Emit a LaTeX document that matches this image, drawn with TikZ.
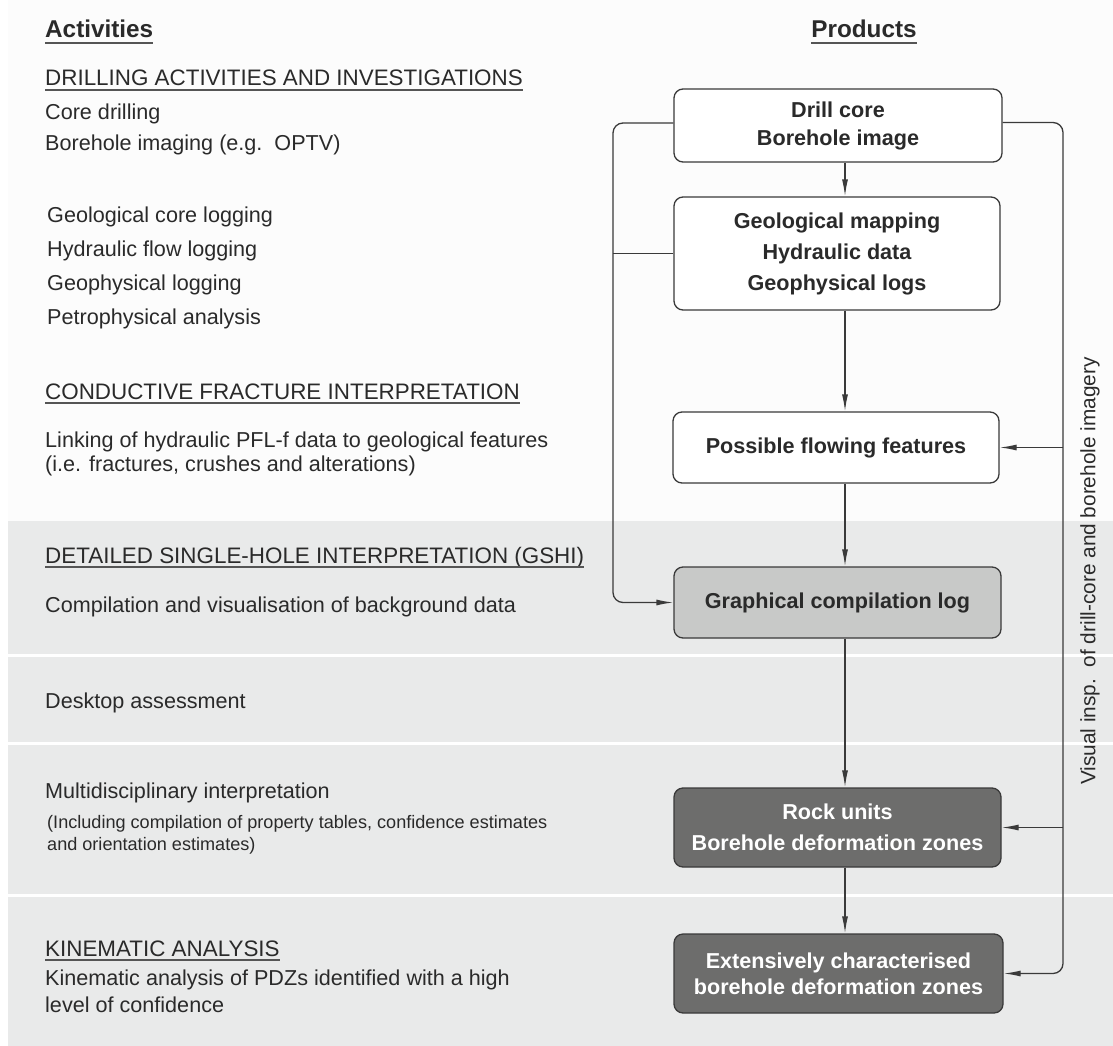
\documentclass[tikz,border=0pt]{standalone}
\usepackage{fontspec}
\setmainfont{Liberation Sans}
\usetikzlibrary{arrows.meta}

\definecolor{band}{HTML}{E9EAEA}
\definecolor{topbg}{HTML}{FCFCFC}
\definecolor{ink}{HTML}{2A2A2A}
\definecolor{edge}{HTML}{3A3A3A}
\definecolor{midbox}{HTML}{C8C9C8}
\definecolor{darkbox}{HTML}{6D6D6C}
\definecolor{rulegray}{HTML}{555555}

\tikzset{
  every node/.style={text=ink},
  txt/.style={anchor=base west, inner sep=0pt, font=\fontsize{21.6}{26}\selectfont},
  caps/.style={anchor=base west, inner sep=0pt, font=\fontsize{22.4}{26}\selectfont},
  small/.style={anchor=base west, inner sep=0pt, font=\fontsize{18.1}{23}\selectfont},
  title/.style={anchor=base west, inner sep=0pt, font=\bfseries\fontsize{24.3}{28}\selectfont},
  uline/.style={draw=rulegray, line width=1.3pt},
  prod/.style={draw=edge, line width=1.3pt, rounded corners=9pt, align=center,
    inner sep=0pt, font=\bfseries\fontsize{21.6}{28}\selectfont},
  wide/.style={font=\bfseries\fontsize{21.6}{31}\selectfont},
  tight/.style={font=\bfseries\fontsize{21.6}{26}\selectfont},
  plain/.style={fill=white},
  mid/.style={fill=midbox},
  dark/.style={fill=darkbox, text=white},
  link/.style={draw=edge, line width=1.3pt},
  arr/.style={link, -{Latex[length=17pt,width=6pt]}},
}

\begin{document}
\begin{tikzpicture}[x=1pt, y=-1pt]
\useasboundingbox (0,0) rectangle (1113,1046);

% background bands
\fill[white] (0,0) rectangle (1113,1046);
\fill[topbg] (8,0) rectangle (1113,521);
\fill[band] (8,521) rectangle (1113,654);
\fill[band] (8,657) rectangle (1113,742);
\fill[band] (8,745) rectangle (1113,894);
\fill[band] (8,897) rectangle (1113,1046);

% column headings
\node[title] (hact) at (45,38) {Activities};
\node[title, anchor=base] (hprod) at (864,38) {Products};
\draw[uline, line width=1.7pt] ([yshift=-5pt]hact.base west) -- ([yshift=-5pt]hact.base east);
\draw[uline, line width=1.7pt] ([yshift=-5pt]hprod.base west) -- ([yshift=-5pt]hprod.base east);

% activities
\node[caps] (s1) at (45,86) {DRILLING ACTIVITIES AND INVESTIGATIONS};
\draw[uline] ([yshift=-4pt]s1.base west) -- ([yshift=-4pt]s1.base east);
\node[txt] (a1) at (45,120) {Core drilling};
\node[txt] (a2) at (45,150) {Borehole imaging (e.g.\ \ OPTV)};
\node[txt] (a3) at (47,222) {Geological core logging};
\node[txt] (a4) at (47,256) {Hydraulic flow logging};
\node[txt] (a5) at (47,290) {Geophysical logging};
\node[txt] (a6) at (47,324) {Petrophysical analysis};

\node[caps] (s2) at (45,399) {CONDUCTIVE FRACTURE INTERPRETATION};
\draw[uline] ([yshift=-4pt]s2.base west) -- ([yshift=-4pt]s2.base east);
\node[txt] (b1) at (45,447) {Linking of hydraulic PFL-f data to geological features};
\node[txt] (b2) at (45,471) {(i.e. fractures, crushes and alterations)};

\node[caps] (s3) at (45,563) {DETAILED SINGLE-HOLE INTERPRETATION (GSHI)};
\draw[uline] ([yshift=-4pt]s3.base west) -- ([yshift=-4pt]s3.base east);
\node[txt] (c1) at (45,612) {Compilation and visualisation of background data};

\node[txt] (d1) at (45,708) {Desktop assessment};

\node[txt] (e1) at (45,798) {Multidisciplinary interpretation};
\node[small] (e2) at (47,828) {(Including compilation of property tables, confidence estimates};
\node[small] (e3) at (47,850) {and orientation estimates)};

\node[caps] (s4) at (45,956) {KINEMATIC ANALYSIS};
\draw[uline] ([yshift=-4pt]s4.base west) -- ([yshift=-4pt]s4.base east);
\node[txt] (f1) at (45,985) {Kinematic analysis of PDZs identified with a high};
\node[txt] (f2) at (45,1012) {level of confidence};

% products
\node[prod, plain, minimum width=328pt, minimum height=73pt] (drill) at (838,125.5)
  {Drill core\\Borehole image};
\node[prod, plain, wide, minimum width=326pt, minimum height=113pt] (geo) at (837,253.5)
  {Geological mapping\\Hydraulic data\\Geophysical logs};
\node[prod, plain, minimum width=326pt, minimum height=71pt] (poss) at (836,447.5)
  {Possible flowing features};
\node[prod, mid, minimum width=327pt, minimum height=71pt] (graph) at (837.5,602.5)
  {Graphical compilation log};
\node[prod, dark, wide, minimum width=327pt, minimum height=79pt] (rock) at (837.5,827.5)
  {Rock units\\Borehole deformation zones};
\node[prod, dark, tight, minimum width=329pt, minimum height=79pt] (ext) at (838.5,973.5)
  {Extensively characterised\\borehole deformation zones};

% guide lines for the connectors
\coordinate (spine) at (845,0);
\coordinate (leftx) at (613,0);
\coordinate (rightx) at (1063,0);
\coordinate (dw) at ([yshift=2.5pt]drill.west);
\coordinate (de) at ([yshift=3pt]drill.east);

% main chain
\draw[arr] (spine |- drill.south) -- (spine |- geo.north);
\draw[arr] (spine |- geo.south) -- (spine |- poss.north);
\draw[arr] (spine |- poss.south) -- (spine |- graph.north);
\draw[arr] (spine |- graph.south) -- (spine |- rock.north);
\draw[arr] (spine |- rock.south) -- (spine |- ext.north);

% left loop into the compilation log
\draw[arr, rounded corners=10pt] (dw) -- (leftx |- dw)
  -- (leftx |- graph.west) -- (graph.west);
\draw[link] (geo.west) -- (leftx |- geo.west);

% right loop: visual inspection
\draw[arr, rounded corners=10pt] (de) -- (rightx |- de)
  -- (rightx |- ext.east) -- (ext.east);
\draw[arr] (rightx |- poss.east) -- (poss.east);
\draw[arr] (rightx |- rock.east) -- (rock.east);

\node[rotate=90, inner sep=0pt, font=\fontsize{20.8}{24}\selectfont] (vis) at (1090,571)
  {Visual insp.\ \ of drill-core and borehole imagery};
\end{tikzpicture}
\end{document}
